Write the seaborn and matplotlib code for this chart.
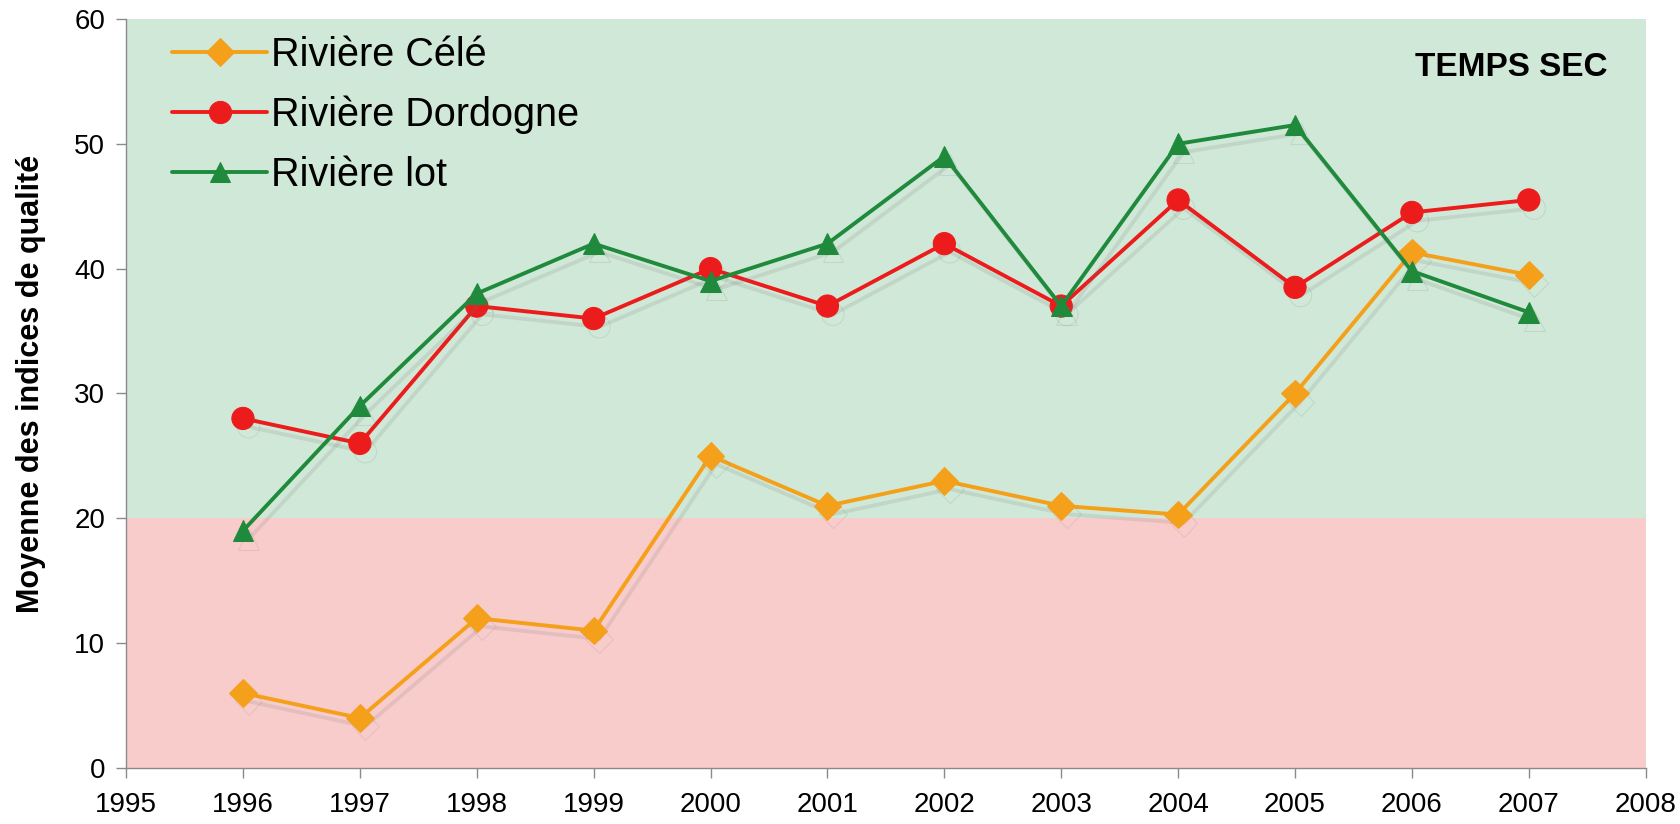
import pandas as pd
import matplotlib.pyplot as plt
import matplotlib.patheffects as pe
import seaborn as sns

# ----------------------------
# Data
# ----------------------------
years = [1996, 1997, 1998, 1999, 2000, 2001, 2002, 2003, 2004, 2005, 2006, 2007]
cele = [6, 4, 12, 11, 25, 21, 23, 21, 20.3, 30, 41.3, 39.5]
dordogne = [28, 26, 37, 36, 40, 37, 42, 37, 45.5, 38.5, 44.5, 45.5]
lot = [19, 29, 38, 42, 39, 42, 49, 37, 50, 51.5, 39.8, 36.5]

series_names = ["Rivière Célé", "Rivière Dordogne", "Rivière lot"]
series_values = [cele, dordogne, lot]
series_colors = ["#f5a01a", "#ec1c1c", "#1f8a3c"]
series_markers = ["D", "o", "^"]
marker_sizes = [14, 16, 15]

xticks = list(range(1995, 2009))
yticks = [0, 10, 20, 30, 40, 50, 60]

# ----------------------------
# Plot
# ----------------------------
sns.set_style("white")
plt.rcParams["font.family"] = ["Liberation Sans", "DejaVu Sans"]

fig = plt.figure(figsize=(16.81, 8.24), dpi=100)
ax = fig.add_axes([0.075, 0.068, 0.904, 0.909])

# quality bands
ax.axhspan(0, 20, color="#f9cccc", zorder=0, lw=0)
ax.axhspan(20, 60, color="#d0e8d7", zorder=0, lw=0)

shadow = [pe.SimpleLineShadow(offset=(4, -6), shadow_color="#707070", alpha=0.15), pe.Normal()]

for name, vals, col, mk, ms in zip(series_names, series_values, series_colors,
                                   series_markers, marker_sizes):
    df = pd.DataFrame({"year": years, "value": vals})
    sns.lineplot(data=df, x="year", y="value", ax=ax, color=col, marker=mk,
                 markersize=ms, markeredgecolor=col, linewidth=2.8,
                 label=name, path_effects=shadow, zorder=3)

ax.set_xlim(1995, 2008)
ax.set_ylim(0, 60)
ax.set_xticks(xticks)
ax.set_yticks(yticks)
tick_family = ["Liberation Sans Narrow", "Liberation Sans", "DejaVu Sans"]
ax.set_xticklabels([str(t) for t in xticks], fontsize=20, family=tick_family)
ax.set_yticklabels([str(t) for t in yticks], fontsize=20, family=tick_family)
ax.tick_params(axis="both", direction="out", length=7, width=1, color="#8a8a8a",
               pad=8, labelcolor="#000000")
ax.tick_params(axis="x", pad=10)
ax.xaxis.set_ticks_position("bottom")
ax.yaxis.set_ticks_position("left")

for side in ["top", "right"]:
    ax.spines[side].set_visible(False)
for side in ["left", "bottom"]:
    ax.spines[side].set_color("#8a8a8a")
    ax.spines[side].set_linewidth(1)

ax.set_xlabel("")
ax.set_ylabel("Moyenne des indices de qualité", fontsize=22, fontweight="bold",
              color="#000000")
ax.yaxis.set_label_coords(-0.053, 0.513)

ax.text(0.975, 0.935, "TEMPS SEC", transform=ax.transAxes, ha="right", va="center",
        fontsize=24, fontweight="bold", color="#000000")

leg = ax.legend(loc="center left", bbox_to_anchor=(0.02, 0.872), frameon=False,
                fontsize=28.5, handlelength=2.4, handletextpad=0.1, labelspacing=0.55,
                borderaxespad=0)
for h in leg.legend_handles:
    h.set_path_effects([])
for t in leg.get_texts():
    t.set_color("#000000")

fig.savefig("out.png", dpi=100, facecolor="white")
